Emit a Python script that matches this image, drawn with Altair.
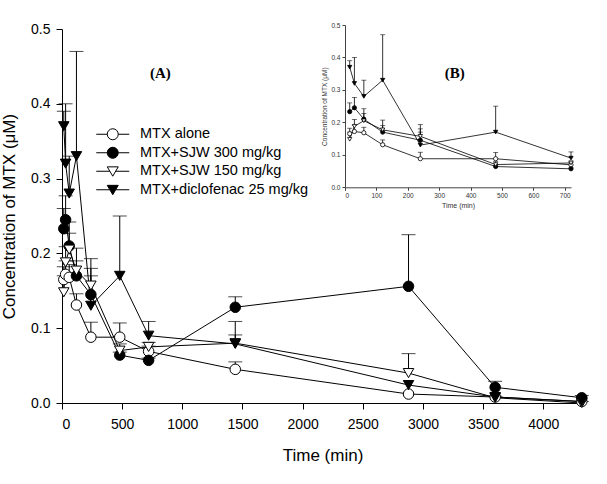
import altair as alt
import pandas as pd

times = [15, 30, 60, 120, 240, 480, 720, 1440, 2880, 3600, 4320]
series_names = ["MTX alone", "MTX+SJW 300 mg/kg", "MTX+SJW 150 mg/kg", "MTX+diclofenac 25 mg/kg"]
series_shapes = ["circle", "circle", "triangle-down", "triangle-down"]
series_fills = ["white", "black", "white", "black"]

mtx_alone = [0.165, 0.172, 0.168, 0.131, 0.088, 0.088, 0.069, 0.045, 0.012, 0.008, 0.002]
mtx_alone_top = [0.182, 0.190, 0.185, 0.146, 0.108, 0.107, 0.076, 0.055, 0.012, 0.008, 0.002]
sjw300 = [0.233, 0.245, 0.210, 0.170, 0.145, 0.064, 0.057, 0.128, 0.156, 0.021, 0.007]
sjw300_top = [0.260, 0.277, 0.242, 0.190, 0.180, 0.068, 0.060, 0.142, 0.225, 0.029, 0.010]
sjw150 = [0.148, 0.188, 0.205, 0.177, 0.157, 0.070, 0.075, 0.080, 0.040, 0.007, 0.000]
sjw150_top = [0.170, 0.209, 0.227, 0.207, 0.193, 0.079, 0.081, 0.091, 0.066, 0.009, 0.002]
diclo = [0.370, 0.320, 0.280, 0.330, 0.130, 0.170, 0.090, 0.079, 0.024, 0.008, 0.002]
diclo_top = [0.390, 0.400, 0.330, 0.470, 0.170, 0.250, 0.109, 0.109, 0.024, 0.008, 0.002]

values = [mtx_alone, sjw300, sjw150, diclo]
tops = [mtx_alone_top, sjw300_top, sjw150_top, diclo_top]

rows = []
for name, shp, fl, vals, tp in zip(series_names, series_shapes, series_fills, values, tops):
    for t, v, u in zip(times, vals, tp):
        rows.append({"t": t, "c": v, "top": u, "series": name, "shape": shp, "fill": fl})
df = pd.DataFrame(rows)
df_inset = df[df["t"] <= 720]

FONT = "Liberation Sans"

legend_paths = [
    "M-3,0H-1M1,0H3M-1,0A1,1,0,1,0,1,0A1,1,0,1,0,-1,0Z",
    "M-3,0H-1M1,0H3M-1,0A1,1,0,1,0,1,0A1,1,0,1,0,-1,0Z",
    "M-3,0H-0.53M0.53,0H3M-1,-0.8L1,-0.8L0,0.9Z",
    "M-3,0H-0.53M0.53,0H3M-1,-0.8L1,-0.8L0,0.9Z",
]


def build(data, xs, ys, xaxis, yaxis, msize, capsize, lw):
    x = alt.X("t:Q", scale=xs, axis=xaxis)
    y = alt.Y("c:Q", scale=ys, axis=yaxis)
    err = data[data["top"] > data["c"]]
    rules = alt.Chart(err).mark_rule(color="black", strokeWidth=lw).encode(
        x=x, y=y, y2="top:Q")
    caps = alt.Chart(err).mark_tick(orient="horizontal", size=capsize, thickness=lw, color="black").encode(
        x=x, y=alt.Y("top:Q", scale=ys, axis=yaxis))
    lines = alt.Chart(data).mark_line(color="black", strokeWidth=lw).encode(
        x=x, y=y, detail="series:N")
    pts = alt.Chart(data).mark_point(filled=True, size=msize, stroke="black", strokeWidth=lw, opacity=1).encode(
        x=x, y=y,
        shape=alt.Shape("shape:N", scale=None),
        fill=alt.Fill("fill:N", scale=None))
    return [rules, lines, caps, pts]


main_xs = alt.Scale(domain=[0, 4330], nice=False, zero=False)
main_ys = alt.Scale(domain=[0, 0.5], nice=False)
main_xaxis = alt.Axis(values=[0, 500, 1000, 1500, 2000, 2500, 3000, 3500, 4000], format="d", grid=False,
                      title="Time (min)", tickSize=6, labelPadding=8, titlePadding=16,
                      labelFont=FONT, labelFontSize=14, titleFont=FONT, titleFontSize=17,
                      titleFontWeight="normal", domainColor="black", tickColor="black",
                      labelColor="black", titleColor="black")
main_yaxis = alt.Axis(values=[0, 0.1, 0.2, 0.3, 0.4, 0.5], format=".1f", grid=False,
                      title="Concentration of MTX (\u03bcM)", tickSize=6, labelPadding=6, titlePadding=12,
                      labelFont=FONT, labelFontSize=14, titleFont=FONT, titleFontSize=17,
                      titleFontWeight="normal", domainColor="black", tickColor="black",
                      labelColor="black", titleColor="black")

main_layers = build(df, main_xs, main_ys, main_xaxis, main_yaxis, 110, 14, 1)

leg = alt.Legend(title=None, orient="none", legendX=43.5, legendY=98, labelFont=FONT,
                 labelFontSize=14.5, labelOffset=20, symbolSize=121, rowPadding=2.5, padding=0,
                 symbolStrokeWidth=1, symbolStrokeColor="black", symbolOpacity=1, labelLimit=400,
                 labelColor="black")
legend_layer = alt.Chart(df).mark_point(filled=True, size=121, stroke="black", strokeWidth=1, opacity=0).encode(
    x=alt.X("t:Q", scale=main_xs, axis=main_xaxis),
    y=alt.Y("c:Q", scale=main_ys, axis=main_yaxis),
    shape=alt.Shape("series:N", scale=alt.Scale(domain=series_names, range=legend_paths), legend=leg),
    fill=alt.Fill("series:N", scale=alt.Scale(domain=series_names, range=series_fills), legend=leg),
)

label_a = pd.DataFrame({"t": [817], "c": [0.441], "txt": ["(A)"]})
text_a = alt.Chart(label_a).mark_text(font="Liberation Serif", fontWeight="bold", fontSize=15,
                                      color="black").encode(
    x=alt.X("t:Q", scale=main_xs, axis=main_xaxis),
    y=alt.Y("c:Q", scale=main_ys, axis=main_yaxis),
    text="txt:N")

main = alt.layer(*main_layers, legend_layer, text_a)

in_xs = alt.Scale(domain=[0, 720], range=[283, 509], nice=False, zero=False)
in_ys = alt.Scale(domain=[0, 0.5], range=[158.3, -4], nice=False)
in_xaxis = alt.Axis(orient="bottom", offset=-215.7, values=[0, 100, 200, 300, 400, 500, 600, 700],
                    format="d", grid=False, title="Time (min)", tickSize=3, labelPadding=2, titlePadding=3,
                    labelFont=FONT, labelFontSize=6.5, titleFont=FONT, titleFontSize=7,
                    titleFontWeight="normal", domainColor="#444", tickColor="#444",
                    labelColor="#333333", titleColor="#333333")
in_yaxis = alt.Axis(orient="left", offset=-283, values=[0, 0.1, 0.2, 0.3, 0.4, 0.5], format=".1f",
                    grid=False, title="Concentration of MTX (\u03bcM)", tickSize=3, labelPadding=2,
                    titlePadding=3, labelFont=FONT, labelFontSize=6.5, titleFont=FONT, titleFontSize=6.5,
                    titleFontWeight="normal", domainColor="#444", tickColor="#444",
                    labelColor="#333333", titleColor="#333333")

inset_layers = build(df_inset, in_xs, in_ys, in_xaxis, in_yaxis, 18, 5, 0.8)
label_b = pd.DataFrame({"t": [350], "c": [0.352], "txt": ["(B)"]})
text_b = alt.Chart(label_b).mark_text(font="Liberation Serif", fontWeight="bold", fontSize=15,
                                      color="black").encode(
    x=alt.X("t:Q", scale=in_xs, axis=in_xaxis),
    y=alt.Y("c:Q", scale=in_ys, axis=in_yaxis),
    text="txt:N")
inset = alt.layer(*inset_layers, text_b)

chart = alt.layer(main, inset).resolve_scale(x="independent", y="independent").properties(
    width=521, height=374,
    padding={"left": 62, "top": 29, "right": 24, "bottom": 81},
    autosize=alt.AutoSizeParams(type="none"),
    background="white",
).configure_view(stroke=None)

chart.save("out.html", embed_options={"renderer": "svg", "actions": False})
